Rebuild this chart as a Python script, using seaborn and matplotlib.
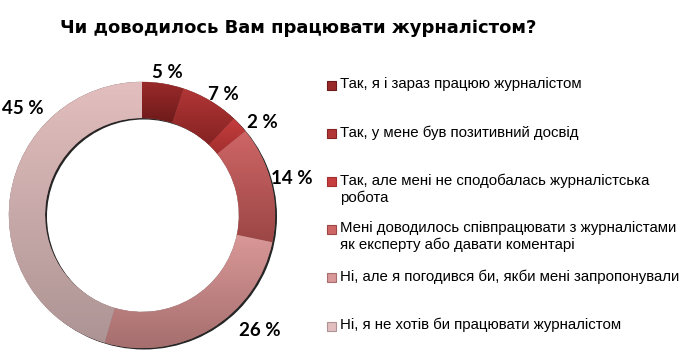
import numpy as np
import matplotlib
matplotlib.use('Agg')
import matplotlib.pyplot as plt
from matplotlib.colors import LinearSegmentedColormap
from matplotlib.patches import Rectangle
import seaborn as sns

# chart data
title = 'Чи доводилось Вам працювати журналістом?'
answers = ['Так, я і зараз працюю журналістом',
           'Так, у мене був позитивний досвід',
           'Так, але мені не сподобалась журналістська\nробота',
           'Мені доводилось співпрацювати з журналістами\nяк експерту або давати коментарі',
           'Ні, але я погодився би, якби мені запропонували',
           'Ні, я не хотів би працювати журналістом']
shares = [5, 7, 2, 14, 26, 45]

# colours per slice (top of gradient, bottom of gradient)
top_cols = ['#9a2a2a', '#b23636', '#c63e3e', '#cf6666', '#da9898', '#e3bebe']
bot_cols = ['#6e1a1a', '#852222', '#a22e2e', '#9c4646', '#a66e6e', '#ad9494']
# label placement tweaks (radius factor, angle shift in degrees)
lab_r = [1.09, 1.09, 1.14, 1.16, 1.24, 1.20]
lab_shift = [-1, -3, -5, 0, 14.5, -33.5]

sns.set_theme(style='white')
plt.rcParams['font.family'] = ['Liberation Sans', 'DejaVu Sans']
plt.rcParams['text.color'] = 'black'

W, H = 687, 364
fig = plt.figure(figsize=(W / 100, H / 100), dpi=100)
fig.patch.set_facecolor('white')

# pie axes in pixel units, centre of donut at (142, 215)
cx, cy = 142, 215
R, ring = 133, 36
ax = fig.add_axes([0, 0, 300 / W, 1])
ax.set_facecolor('white')

# shadow ring
ax.pie([1], radius=R, center=(2, -1.5), colors=['#000000'],
       wedgeprops=dict(width=ring, edgecolor='none', alpha=0.85))
wedges, _ = ax.pie(shares, radius=R, startangle=90, counterclock=False,
                   colors=top_cols,
                   wedgeprops=dict(width=ring, edgecolor='#7a5a5a', linewidth=0.3))

grad = np.linspace(0, 1, 256).reshape(-1, 1)
for w, c0, c1 in zip(wedges, bot_cols, top_cols):
    x0, y0, x1, y1 = w.get_path().get_extents().extents
    cmap = LinearSegmentedColormap.from_list('g', [c0, c1])
    im = ax.imshow(grad, cmap=cmap, origin='lower', extent=(x0, x1, y0, y1),
                   interpolation='bilinear', zorder=w.get_zorder())
    im.set_clip_path(w)

for w, v, rf, sh in zip(wedges, shares, lab_r, lab_shift):
    ang = np.deg2rad((w.theta1 + w.theta2) / 2 + sh)
    ax.text(rf * R * np.cos(ang), rf * R * np.sin(ang), f'{v} %',
            ha='center', va='center', fontsize=13.5, fontweight='bold',
            family=['Lato', 'DejaVu Sans'], color='black')

ax.set_xlim(-cx, 300 - cx)
ax.set_ylim(-(H - cy), cy)
ax.set_aspect('equal')
ax.axis('off')

# title
fig.text(298 / W, 1 - 28 / H, title, ha='center', va='center', color='black',
         fontsize=13, fontweight='bold', family=['DejaVu Sans'])

# legend drawn in pixel coordinates
lg = fig.add_axes([0, 0, 1, 1])
lg.set_xlim(0, W)
lg.set_ylim(H, 0)
lg.axis('off')
lg.patch.set_alpha(0)
row0, step = 81, 48.1
for i, (txt, c0, c1) in enumerate(zip(answers, bot_cols, top_cols)):
    y = row0 + i * step
    lg.add_patch(Rectangle((327, y), 9, 9, facecolor=c1, edgecolor=c0, linewidth=0.8))
    lg.text(340, y - 4, txt, ha='left', va='top', fontsize=10.8,
            linespacing=1.22, color='black')

fig.savefig('out.png', dpi=100, facecolor='white')
